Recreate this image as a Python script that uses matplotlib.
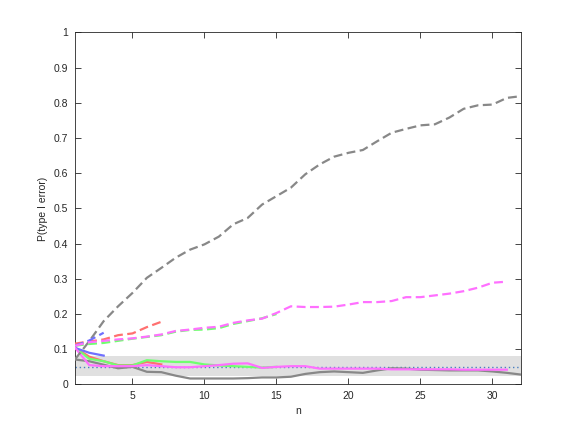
import matplotlib
matplotlib.use("Agg")
import matplotlib.pyplot as plt
import numpy as np

n_all = np.arange(1, 33)

# dashed series
gray_dash = [0.071, 0.123, 0.18, 0.222, 0.26, 0.303, 0.331, 0.36, 0.383, 0.398,
             0.42, 0.455, 0.473, 0.511, 0.535, 0.559, 0.597, 0.625, 0.647, 0.658,
             0.666, 0.691, 0.715, 0.726, 0.736, 0.739, 0.758, 0.783, 0.793, 0.795,
             0.814, 0.819]
magenta_dash = [0.11, 0.12, 0.124, 0.128, 0.131, 0.136, 0.142, 0.152, 0.156, 0.161,
                0.164, 0.175, 0.182, 0.187, 0.203, 0.222, 0.22, 0.22, 0.221, 0.227,
                0.234, 0.234, 0.237, 0.248, 0.248, 0.253, 0.258, 0.265, 0.275, 0.289,
                0.292]
green_dash = [0.11, 0.115, 0.118, 0.124, 0.13, 0.135, 0.14, 0.15, 0.155, 0.156,
              0.16, 0.172, 0.18, 0.188, 0.2]
red_dash = [0.116, 0.122, 0.128, 0.14, 0.145, 0.163, 0.178]
blue_dash = [0.11, 0.125, 0.147]

# solid series
gray_solid = [0.071, 0.066, 0.056, 0.046, 0.05, 0.036, 0.035, 0.025, 0.017, 0.017,
              0.017, 0.017, 0.018, 0.02, 0.02, 0.022, 0.03, 0.035, 0.037, 0.035,
              0.033, 0.04, 0.046, 0.045, 0.042, 0.041, 0.04, 0.04, 0.04, 0.037,
              0.033, 0.028]
magenta_solid = [0.105, 0.055, 0.052, 0.052, 0.052, 0.055, 0.052, 0.049, 0.049, 0.052,
                 0.055, 0.059, 0.06, 0.047, 0.05, 0.052, 0.052, 0.045, 0.045, 0.045,
                 0.045, 0.045, 0.043, 0.043, 0.043, 0.043, 0.043, 0.042, 0.042, 0.042,
                 0.042]
green_solid = [0.105, 0.073, 0.066, 0.054, 0.054, 0.069, 0.066, 0.064, 0.064, 0.057,
               0.054, 0.052, 0.05, 0.048, 0.05]
red_solid = [0.105, 0.079, 0.066, 0.055, 0.055, 0.064, 0.057]
blue_solid = [0.104, 0.09, 0.082]

band_lo, band_hi = 0.024, 0.08
alpha_level = 0.05

axcol = "#262626"
plt.rcParams['font.family'] = ['Liberation Sans', 'DejaVu Sans']
plt.rcParams['font.size'] = 7.5

fig = plt.figure(figsize=(5.76, 4.32), dpi=100)
ax = fig.add_axes([0.13, 0.11, 0.775, 0.815])

ax.fill_between([1, 32], [band_lo, band_lo], [band_hi, band_hi],
                color="#e0e0e0", lw=0, zorder=1)
ax.plot([1, 32], [alpha_level, alpha_level], ls=(0, (1, 2)), color="#4a7fc0",
        lw=1.0, zorder=2)

cols = {"gray": "#888888", "red": "#ff7070", "green": "#70ff70",
        "blue": "#7070ff", "magenta": "#ff70ff"}
lw = 1.6
dash = (0, (4, 2))

def pl(vals, c, ls):
    x = n_all[:len(vals)]
    ax.plot(x, vals, color=cols[c], lw=lw, ls=ls, zorder=3)

pl(gray_solid, "gray", "-")
pl(red_solid, "red", "-")
pl(green_solid, "green", "-")
pl(blue_solid, "blue", "-")
pl(magenta_solid, "magenta", "-")
pl(gray_dash, "gray", dash)
pl(red_dash, "red", dash)
pl(green_dash, "green", dash)
pl(blue_dash, "blue", dash)
pl(magenta_dash, "magenta", dash)

ax.set_xlim(1, 32)
ax.set_ylim(0, 1)
ax.set_xticks([5, 10, 15, 20, 25, 30])
ax.set_yticks(np.arange(0, 1.01, 0.1))
ax.set_yticklabels(["0", "0.1", "0.2", "0.3", "0.4", "0.5", "0.6", "0.7",
                    "0.8", "0.9", "1"])
ax.tick_params(direction="in", top=True, right=True, length=4, width=0.6,
               colors=axcol, labelsize=7.5, pad=5)
for s in ax.spines.values():
    s.set_color(axcol)
    s.set_linewidth(0.6)
ax.set_xlabel("n", color=axcol, fontsize=7.5, labelpad=3)
ax.set_ylabel("P(type I error)", color=axcol, fontsize=7.5, labelpad=4)

fig.savefig("out.png", dpi=100)
